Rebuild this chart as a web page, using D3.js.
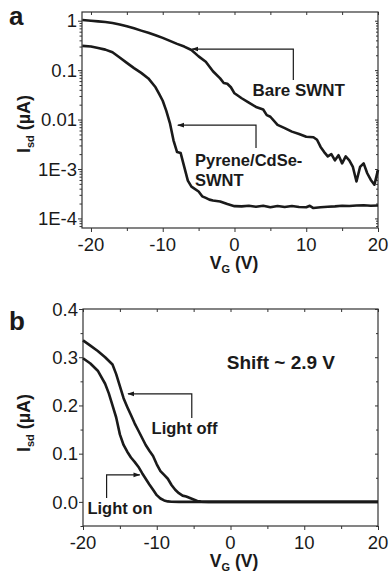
<!DOCTYPE html>
<html>
<head>
<meta charset="utf-8">
<script src="https://cdn.jsdelivr.net/npm/d3@7"></script>
<style>
  body { margin: 0; background: #fff; }
  text { font-family: "Liberation Sans", Arial, sans-serif; fill: #1a1a1a; }
</style>
</head>
<body>
<svg id="chart" width="391" height="573"></svg>
<script>
// panel a: gate sweeps, log scale
const bareV = [-21.2,-20,-19,-18,-17,-16,-15,-14,-13,-12,-11,-10,-9,-8,-7,-6,-5,-4,-3,-2,-1.5,-1,-0.5,0,1,2,3,4,4.5,5,6,7,8,9,10,11,11.5,12,12.5,13,13.5,14,14.5,15,15.5,16,16.5,17,17.5,18,18.5,19,19.5,20];
const bareI = [1.03,1.0,0.97,0.94,0.90,0.84,0.77,0.70,0.63,0.57,0.51,0.45,0.39,0.34,0.30,0.255,0.19,0.148,0.095,0.068,0.055,0.053,0.045,0.034,0.027,0.022,0.018,0.016,0.0123,0.0114,0.0078,0.0067,0.0057,0.0051,0.0045,0.0044,0.0039,0.0028,0.0022,0.0018,0.0020,0.0015,0.0019,0.0013,0.0018,0.0015,0.0011,0.00056,0.0011,0.0013,0.00082,0.00060,0.00048,0.00096];

const pyreneV = [-21.2,-20,-19,-18,-17,-16,-15,-14,-13,-12,-11,-10.5,-10,-9.5,-9,-8.5,-8,-7.5,-7,-6.5,-6,-5,-4.5,-4,-3.5,-3,-2,-1,0,1,2,3,4,5,6,7,8,9,10,10.5,11,12,13,14,15,16,17,18,19,20];
const pyreneI = [0.31,0.30,0.28,0.26,0.23,0.18,0.14,0.11,0.088,0.068,0.045,0.033,0.024,0.015,0.0085,0.0038,0.0022,0.0021,0.0011,0.00058,0.00044,0.00035,0.00028,0.00026,0.00024,0.00023,0.00022,0.000195,0.000177,0.000175,0.00018,0.000172,0.00018,0.000168,0.000178,0.00017,0.000178,0.00017,0.000168,0.00018,0.000162,0.000168,0.000172,0.000175,0.00018,0.000178,0.000182,0.000185,0.00018,0.000182];

// panel b: light off / light on, linear scale
const offV = [-20,-19,-18,-17,-16,-15.5,-15,-14.5,-14,-13.5,-13,-12.5,-12,-11.5,-11,-10.5,-10,-9.5,-9,-8.5,-8,-7.5,-7,-6.5,-6,-5.5,-5,-4.5,-4,-3,0,10,20];
const offI = [0.335,0.324,0.313,0.300,0.285,0.265,0.240,0.215,0.197,0.180,0.163,0.148,0.133,0.118,0.106,0.095,0.078,0.064,0.056,0.048,0.035,0.025,0.018,0.013,0.011,0.008,0.005,0.002,0.0005,0,0,0,0];

const onV = [-20,-19,-18,-17,-16.5,-16,-15.5,-15,-14.5,-14,-13.5,-13,-12.5,-12,-11.5,-11,-10.5,-10,-9.5,-9,-8.5,-8,-7,0,10,20];
const onI = [0.298,0.287,0.272,0.245,0.225,0.200,0.175,0.140,0.118,0.104,0.092,0.083,0.073,0.060,0.048,0.036,0.025,0.014,0.007,0.003,0.001,0.0003,0,0,0,0];

const xMajor = [-20,-10,0,10,20];
const xMinor = [-15,-5,5,15];
const logMajor = [1,0.1,0.01,1e-3,1e-4];
const logLabels = ["1","0.1","0.01","1E-3","1E-4"];
const linMajor = [0,0.1,0.2,0.3,0.4];
const linLabels = ["0.0","0.1","0.2","0.3","0.4"];
const linMinor = [-0.05,0.05,0.15,0.25,0.35];

const svg = d3.select("#chart");
const ink = "#1a1a1a";

const line = (x, y) => d3.line().x(d => x(d[0])).y(d => y(d[1]));

svg.append("defs").append("marker")
  .attr("id", "head")
  .attr("viewBox", "0 0 10 10")
  .attr("refX", 9).attr("refY", 5)
  .attr("markerWidth", 7).attr("markerHeight", 7)
  .attr("markerUnits", "userSpaceOnUse")
  .attr("orient", "auto")
  .append("path").attr("d", "M0,1.5L10,5L0,8.5Z").attr("fill", ink);

function drawPanel(opt) {
  const {x, y, yMajor, yLabels, yMinor, letter, letterY, yTitleY, xTitleY, xLabelY} = opt;
  const [l, r] = x.range();
  const [b, t] = y.range();
  const g = svg.append("g");

  // ticks
  const tickStyle = sel => {
    sel.select(".domain").remove();
    sel.selectAll("line").attr("stroke", "#333");
    sel.selectAll("text").remove();
  };
  g.append("g").attr("transform", `translate(0,${b})`)
    .call(d3.axisBottom(x).tickValues(xMajor).tickSize(4)).call(tickStyle);
  g.append("g").attr("transform", `translate(0,${b})`)
    .call(d3.axisBottom(x).tickValues(xMinor).tickSize(3)).call(tickStyle);
  g.append("g").attr("transform", `translate(0,${t})`)
    .call(d3.axisTop(x).tickValues(xMajor.concat(xMinor)).tickSize(-3)).call(tickStyle);
  g.append("g").attr("transform", `translate(${l},0)`)
    .call(d3.axisLeft(y).tickValues(yMajor).tickSize(4)).call(tickStyle);
  g.append("g").attr("transform", `translate(${l},0)`)
    .call(d3.axisLeft(y).tickValues(yMinor).tickSize(2.5)).call(tickStyle);
  g.append("g").attr("transform", `translate(${r},0)`)
    .call(d3.axisRight(y).tickValues(yMajor).tickSize(-3)).call(tickStyle);
  g.append("g").attr("transform", `translate(${r},0)`)
    .call(d3.axisRight(y).tickValues(yMinor).tickSize(-2)).call(tickStyle);

  g.append("rect")
    .attr("x", l).attr("y", t).attr("width", r - l).attr("height", b - t)
    .attr("fill", "none").attr("stroke", "#333").attr("stroke-width", 1.2);

  // tick labels
  g.selectAll(".xl").data(xMajor).join("text")
    .attr("x", d => x(d)).attr("y", xLabelY)
    .attr("text-anchor", "middle").attr("font-size", 18.5).text(d => d);
  g.selectAll(".yl").data(yMajor).join("text")
    .attr("x", l - 5).attr("y", d => y(d)).attr("dy", "0.36em")
    .attr("text-anchor", "end").attr("font-size", 18.5)
    .text((d, i) => yLabels[i]);

  // axis titles
  const xt = g.append("text").attr("x", 234).attr("y", xTitleY)
    .attr("text-anchor", "middle").attr("font-size", 17.5).attr("font-weight", "bold");
  xt.append("tspan").text("V");
  xt.append("tspan").attr("font-size", 11).attr("dy", 4).text("G");
  xt.append("tspan").attr("dy", -4).text(" (V)");

  const yt = g.append("text")
    .attr("transform", `translate(30,${yTitleY}) rotate(-90)`)
    .attr("text-anchor", "middle").attr("font-size", 18).attr("font-weight", "bold");
  yt.append("tspan").text("I");
  yt.append("tspan").attr("font-size", 11).attr("dy", 4).text("sd");
  yt.append("tspan").attr("dy", -4).text(" (\u00b5A)");

  g.append("text").attr("x", 9).attr("y", letterY)
    .attr("font-size", 26).attr("font-weight", "bold").text(letter);

  return g;
}

function arrow(g, pts) {
  g.append("path").attr("d", d3.line()(pts))
    .attr("fill", "none").attr("stroke", ink).attr("stroke-width", 1.2)
    .attr("marker-end", "url(#head)");
}

function label(g, px, py, txt, size) {
  g.append("text").attr("x", px).attr("y", py)
    .attr("font-size", size).attr("font-weight", "bold").text(txt);
}

// ---- panel a
const xa = d3.scaleLinear().domain([-21.25, 20]).range([82, 378]);
const ya = d3.scaleLog().domain([6.4e-5, 1.5]).range([228, 12]);
const logMinor = [];
[1e-5,1e-4,1e-3,1e-2,1e-1,1].forEach(p => d3.range(2, 10).forEach(k => {
  const v = p * k;
  if (v > 6.4e-5 && v < 1.5) logMinor.push(v);
}));
const ga = drawPanel({x: xa, y: ya, yMajor: logMajor, yLabels: logLabels, yMinor: logMinor,
  letter: "a", letterY: 25, yTitleY: 124, xTitleY: 269, xLabelY: 251});

ga.append("path").datum(d3.zip(bareV, bareI))
  .attr("d", line(xa, ya)).attr("fill", "none").attr("stroke", ink)
  .attr("stroke-width", 2.6).attr("stroke-linejoin", "round");
ga.append("path").datum(d3.zip(pyreneV, pyreneI))
  .attr("d", line(xa, ya)).attr("fill", "none").attr("stroke", ink)
  .attr("stroke-width", 2.6).attr("stroke-linejoin", "round");

arrow(ga, [[xa(8.2), ya(0.063)], [xa(8.2), ya(0.267)], [xa(-5.9), ya(0.267)]]);
label(ga, xa(2.5), ya(0.0298), "Bare SWNT", 17);
arrow(ga, [[xa(3.0), ya(0.00265)], [xa(3.0), ya(0.0077)], [xa(-7.9), ya(0.0077)]]);
label(ga, xa(-5.5), ya(0.00115), "Pyrene/CdSe-", 16.5);
label(ga, xa(-5.5), ya(0.00046), "SWNT", 16.5);

// ---- panel b
const xb = d3.scaleLinear().domain([-20, 20]).range([83, 378]);
const yb = d3.scaleLinear().domain([-0.05, 0.4]).range([526, 309]);
const gb = drawPanel({x: xb, y: yb, yMajor: linMajor, yLabels: linLabels, yMinor: linMinor,
  letter: "b", letterY: 330, yTitleY: 423, xTitleY: 567, xLabelY: 549});

gb.append("path").datum(d3.zip(offV, offI))
  .attr("d", line(xb, yb)).attr("fill", "none").attr("stroke", ink)
  .attr("stroke-width", 2.6).attr("stroke-linejoin", "round");
gb.append("path").datum(d3.zip(onV, onI))
  .attr("d", line(xb, yb)).attr("fill", "none").attr("stroke", ink)
  .attr("stroke-width", 2.6).attr("stroke-linejoin", "round");

label(gb, xb(-0.5), yb(0.276), "Shift ~ 2.9 V", 19);
arrow(gb, [[xb(-5.25), yb(0.174)], [xb(-5.25), yb(0.224)], [xb(-13.9), yb(0.224)]]);
label(gb, xb(-10.7), yb(0.141), "Light off", 16.5);
arrow(gb, [[xb(-16.8), yb(0.008)], [xb(-16.8), yb(0.056)], [xb(-12.3), yb(0.056)]]);
label(gb, xb(-19.4), yb(-0.026), "Light on", 16.5);
</script>
</body>
</html>
